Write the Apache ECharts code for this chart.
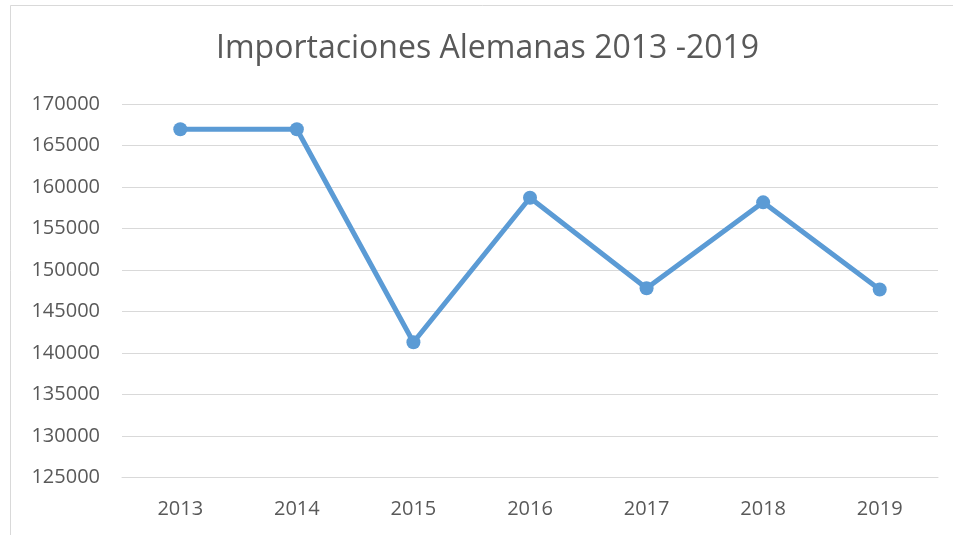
<!DOCTYPE html>
<html>
<head>
<meta charset="utf-8">
<script src="https://cdn.jsdelivr.net/npm/echarts@6/dist/echarts.min.js"></script>
<style>
html,body{margin:0;padding:0;background:#fff;}
#chart{width:953px;height:535px;}
</style>
</head>
<body>
<div id="chart"></div>
<script>
const titleText = 'Importaciones Alemanas 2013 -2019';
const years = ['2013', '2014', '2015', '2016', '2017', '2018', '2019'];
const imports = [166950, 166950, 141300, 158700, 147800, 158150, 147650];
const yMin = 125000;
const yMax = 170000;
const yStep = 5000;

const chart = echarts.init(document.getElementById('chart'), null, {renderer: 'canvas'});
const font = 'Open Sans';
chart.setOption({
  animation: false,
  backgroundColor: '#fff',
  title: {
    text: titleText,
    left: 211,
    top: 28,
    textStyle: {fontFamily: font, fontSize: 32, fontWeight: 'normal', color: '#595959'}
  },
  graphic: [{
    type: 'rect',
    shape: {x: 10.5, y: 5.5, width: 960, height: 540},
    style: {fill: 'none', stroke: '#d9d9d9', lineWidth: 1},
    silent: true
  }],
  grid: {left: 122, right: 15, top: 104, bottom: 57.5, containLabel: false},
  xAxis: {
    type: 'category',
    data: years,
    boundaryGap: true,
    axisLine: {show: true, lineStyle: {color: '#d9d9d9', width: 1}},
    axisTick: {show: false},
    axisLabel: {fontFamily: font, fontSize: 20, color: '#595959', margin: 22}
  },
  yAxis: {
    type: 'value',
    min: yMin,
    max: yMax,
    interval: yStep,
    axisLine: {show: false},
    axisTick: {show: false},
    splitLine: {lineStyle: {color: '#d9d9d9', width: 1}},
    axisLabel: {fontFamily: font, fontSize: 20, color: '#595959', margin: 22,
      formatter: function (v) { return String(v); }}
  },
  series: [{
    type: 'line',
    data: imports,
    symbol: 'circle',
    symbolSize: 14,
    lineStyle: {color: '#5B9BD5', width: 5},
    itemStyle: {color: '#5B9BD5'}
  }]
});
</script>
</body>
</html>
